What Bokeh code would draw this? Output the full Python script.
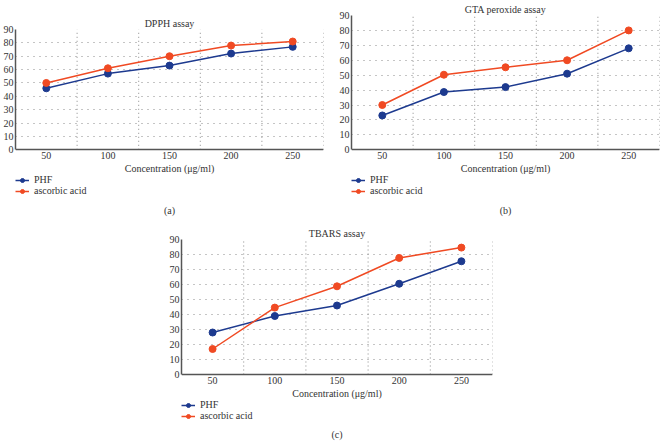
from bokeh.plotting import figure
from bokeh.layouts import column, row
from bokeh.models import Legend, LegendItem, Title, FixedTicker, Spacer
from bokeh.embed import file_html
from bokeh.resources import INLINE

# ---- data ----
conc = [50, 100, 150, 200, 250]
dpph_phf = [46, 57, 63, 72, 77]
dpph_asc = [50, 61, 70, 78, 81]
gta_phf = [23, 38.7, 42, 51, 68]
gta_asc = [30, 50.3, 55.3, 60, 80]
tbars_phf = [28, 39, 46, 60.5, 75.5]
tbars_asc = [17, 44.6, 58.8, 77.7, 84.6]
y_ticks = [0, 10, 20, 30, 40, 50, 60, 70, 80, 90]
y_grid = [10, 20, 30, 40, 50, 60, 70, 80, 90]
x_grid = [75, 125, 175, 225, 275]
series_names = ["PHF", "ascorbic acid"]
panel_titles = ["DPPH assay", "GTA peroxide assay", "TBARS assay"]
panel_labels = ["(a)", "(b)", "(c)"]
x_label = "Concentration (μg/ml)"

FONT = "Liberation Serif"
BLUE = "#1d3a8f"
RED = "#f04a23"
TEXT = "#333333"
GRID = "#8a8a8a"


def make_panel(title, phf, asc, label, width, height, mbl, mbr,
               top_px, zero_px, bottom_px, title_standoff, label_standoff):
    ymax = y_ticks[-1]
    ymin = -ymax * (bottom_px - zero_px) / (zero_px - top_px)
    p = figure(width=width, height=height, x_range=(25, 275),
               y_range=(ymin, ymax),
               output_backend="svg", toolbar_location=None,
               min_border_left=mbl, min_border_right=mbr,
               min_border_top=top_px, min_border_bottom=height - bottom_px)
    p.outline_line_color = None
    p.title.text = title
    p.title.align = "center"
    p.title.text_font = FONT
    p.title.text_font_size = "10px"
    p.title.text_font_style = "normal"
    p.title.text_color = TEXT
    p.title.standoff = title_standoff

    for ax in (p.xaxis[0], p.yaxis[0]):
        ax.major_tick_out = 0
        ax.major_tick_in = 0
        ax.minor_tick_out = 0
        ax.minor_tick_in = 0
        ax.axis_line_color = "#555555"
        ax.axis_line_width = 1.5
        ax.major_label_text_font = FONT
        ax.major_label_text_font_size = "10px"
        ax.major_label_text_color = TEXT
        ax.major_label_standoff = 2
    p.xaxis.ticker = FixedTicker(ticks=conc)
    p.xaxis.fixed_location = y_ticks[0]
    p.yaxis.ticker = FixedTicker(ticks=y_ticks)
    p.yaxis.bounds = (y_ticks[0], y_ticks[-1])
    p.xaxis.axis_label = x_label
    p.xaxis.axis_label_text_font = FONT
    p.xaxis.axis_label_text_font_size = "10px"
    p.xaxis.axis_label_text_font_style = "normal"
    p.xaxis.axis_label_text_color = TEXT
    p.xaxis.axis_label_standoff = 1

    p.xgrid.visible = False
    p.ygrid.ticker = FixedTicker(ticks=y_grid)
    p.ygrid.grid_line_color = GRID
    p.ygrid.grid_line_dash = "1 5"
    n = len(x_grid)
    p.segment(x0=x_grid, y0=[y_ticks[0]] * n, x1=x_grid, y1=[y_ticks[-1]] * n,
              line_color=GRID, line_dash="1 3", line_width=1)

    l1 = p.line(conc, phf, color=BLUE, line_width=1.5)
    s1 = p.scatter(conc, phf, size=7, color=BLUE)
    l2 = p.line(conc, asc, color=RED, line_width=1.5)
    s2 = p.scatter(conc, asc, size=7, color=RED)

    legend = Legend(items=[LegendItem(label=series_names[0], renderers=[l1, s1]),
                           LegendItem(label=series_names[1], renderers=[l2, s2])],
                    location=(0, 2), orientation="vertical",
                    label_text_font=FONT, label_text_font_size="10px",
                    label_text_color=TEXT,
                    glyph_height=10, glyph_width=14, label_height=10,
                    label_standoff=5, spacing=0, padding=0, margin=0,
                    border_line_color=None, background_fill_alpha=0)
    p.add_layout(legend)
    p.add_layout(Title(text=label, align="center", text_font=FONT,
                       text_font_size="10px", text_font_style="normal",
                       text_color=TEXT, standoff=label_standoff), "below")
    return p


pa = make_panel(panel_titles[0], dpph_phf, dpph_asc, panel_labels[0],
                330, 206, 0, 7, 14, 135, 184, 2, 8)
pb = make_panel(panel_titles[1], gta_phf, gta_asc, panel_labels[1],
                331, 220, 21, 2, 14, 149, 198, 2, 8)
pc = make_panel(panel_titles[2], tbars_phf, tbars_asc, panel_labels[2],
                340, 223, 21, 8, 19, 154, 203, 2, 6)

layout = column(row(column(Spacer(width=330, height=14), pa), pb),
                row(Spacer(width=160, height=223), pc))
open("out.html", "w").write(file_html(layout, INLINE))
